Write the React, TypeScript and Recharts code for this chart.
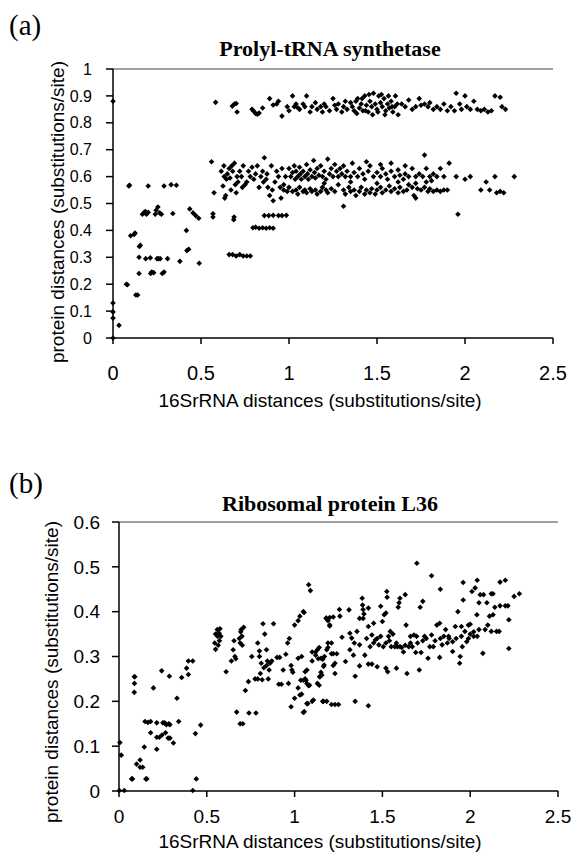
import React from 'react';
import { ScatterChart, Scatter, XAxis, YAxis, ReferenceLine } from 'recharts';

type P = [number, number];

const xTicks = [0, 0.5, 1, 1.5, 2, 2.5];
const prolylTicks = [0, 0.1, 0.2, 0.3, 0.4, 0.5, 0.6, 0.7, 0.8, 0.9, 1];
const l36Ticks = [0, 0.1, 0.2, 0.3, 0.4, 0.5, 0.6];

const panelLabels = ['(a)', '(b)'];
const chartTitles = ['Prolyl-tRNA synthetase', 'Ribosomal protein L36'];
const xTitle = '16SrRNA distances (substitutions/site)';
const yTitle = 'protein distances (substitutions/site)';

// ---------- (a) Prolyl-tRNA synthetase ----------
const prolylLeft: P[] = [
  [0, 0.88], [0, 0.13], [0, 0.097], [0, 0.074], [0, 0], [0.034, 0.047], [0.076, 0.2], [0.082, 0.198],
  [0.09, 0.565], [0.094, 0.568], [0.1, 0.38], [0.12, 0.385], [0.125, 0.39], [0.13, 0.16], [0.14, 0.16],
  [0.15, 0.34], [0.155, 0.345], [0.148, 0.3], [0.148, 0.24], [0.167, 0.46], [0.175, 0.465], [0.183, 0.47],
  [0.19, 0.46], [0.2, 0.467], [0.186, 0.295], [0.212, 0.298], [0.2, 0.565], [0.214, 0.24], [0.22, 0.245],
  [0.231, 0.243], [0.24, 0.46], [0.245, 0.475], [0.255, 0.487], [0.265, 0.465], [0.275, 0.46], [0.25, 0.295],
  [0.258, 0.295], [0.268, 0.295], [0.28, 0.24], [0.29, 0.245], [0.29, 0.565], [0.31, 0.295], [0.34, 0.463],
  [0.33, 0.57], [0.36, 0.568], [0.38, 0.285], [0.417, 0.4], [0.42, 0.325], [0.43, 0.33], [0.436, 0.48],
  [0.455, 0.465], [0.47, 0.455], [0.487, 0.445], [0.49, 0.278], [0.56, 0.655], [0.568, 0.45], [0.568, 0.462],
  [0.574, 0.54],
];

const prolylLowLines: P[] = [
  [0.66, 0.31], [0.68, 0.31], [0.7, 0.305], [0.72, 0.31], [0.74, 0.305], [0.76, 0.305], [0.78, 0.305],
  [0.686, 0.44], [0.688, 0.45], [0.795, 0.41], [0.81, 0.412], [0.83, 0.408], [0.85, 0.41], [0.87, 0.408],
  [0.89, 0.41], [0.91, 0.408], [0.86, 0.455], [0.885, 0.455], [0.91, 0.456], [0.94, 0.455], [0.96, 0.455],
  [0.985, 0.456], [1.31, 0.49], [1.72, 0.52], [1.96, 0.46],
];

const prolylMiddle: P[] = [
  [0.615, 0.62], [0.625, 0.565], [0.63, 0.64], [0.632, 0.6], [0.635, 0.52], [0.64, 0.53], [0.645, 0.59],
  [0.65, 0.61], [0.66, 0.63], [0.665, 0.595], [0.67, 0.55], [0.675, 0.64], [0.68, 0.62], [0.69, 0.65],
  [0.695, 0.57], [0.7, 0.54], [0.705, 0.6], [0.71, 0.58], [0.72, 0.62], [0.73, 0.6], [0.735, 0.56],
  [0.74, 0.64], [0.75, 0.57], [0.76, 0.58], [0.77, 0.62], [0.78, 0.6], [0.79, 0.635], [0.8, 0.59],
  [0.81, 0.61], [0.82, 0.64], [0.83, 0.56], [0.84, 0.6], [0.85, 0.62], [0.855, 0.58], [0.86, 0.67],
  [0.87, 0.59], [0.875, 0.61], [0.88, 0.56], [0.89, 0.53], [0.9, 0.64], [0.905, 0.55], [0.91, 0.51],
  [0.92, 0.58], [0.93, 0.62], [0.94, 0.6], [0.95, 0.56], [0.955, 0.52], [0.96, 0.63], [0.97, 0.57],
  [0.98, 0.6], [0.99, 0.545],
  [1.0, 0.63], [1.01, 0.6], [1.02, 0.615], [1.03, 0.64], [1.035, 0.59], [1.04, 0.62], [1.05, 0.6],
  [1.06, 0.635], [1.065, 0.61], [1.07, 0.59], [1.08, 0.62], [1.09, 0.6], [1.1, 0.645], [1.105, 0.61],
  [1.11, 0.59], [1.12, 0.625], [1.13, 0.6], [1.14, 0.66], [1.145, 0.615], [1.15, 0.595], [1.16, 0.63],
  [1.17, 0.605], [1.18, 0.64], [1.19, 0.6], [1.2, 0.62], [1.21, 0.59], [1.22, 0.665], [1.23, 0.61],
  [1.24, 0.63], [1.25, 0.6], [1.26, 0.645], [1.27, 0.62], [1.28, 0.6], [1.29, 0.63], [1.3, 0.61],
  [1.31, 0.64], [1.32, 0.6], [1.33, 0.62], [1.35, 0.6], [1.36, 0.65], [1.37, 0.615], [1.39, 0.6],
  [1.4, 0.63], [1.42, 0.61], [1.43, 0.59], [1.45, 0.62], [1.46, 0.64], [1.48, 0.6], [1.5, 0.615],
  [1.52, 0.6], [1.53, 0.63], [1.55, 0.61], [1.56, 0.59], [1.58, 0.62], [1.6, 0.6], [1.62, 0.625],
  [1.63, 0.605], [1.65, 0.59], [1.66, 0.61], [1.68, 0.6], [1.7, 0.63], [1.72, 0.6], [1.74, 0.61],
  [1.76, 0.6], [1.77, 0.68], [1.78, 0.63], [1.8, 0.6], [1.82, 0.61], [1.84, 0.6], [1.86, 0.63], [1.88, 0.6],
  [1.44, 0.655], [1.52, 0.645], [1.58, 0.65], [1.66, 0.64],
  [0.97, 0.55], [1.0, 0.56], [1.02, 0.545], [1.04, 0.55], [1.05, 0.535], [1.06, 0.56], [1.08, 0.545],
  [1.09, 0.55], [1.1, 0.54], [1.12, 0.555], [1.13, 0.545], [1.15, 0.55], [1.16, 0.535], [1.18, 0.545],
  [1.19, 0.56], [1.21, 0.55], [1.22, 0.54], [1.24, 0.555], [1.26, 0.545], [1.28, 0.57], [1.31, 0.55],
  [1.32, 0.535], [1.34, 0.56], [1.35, 0.545], [1.37, 0.55], [1.38, 0.53], [1.4, 0.545], [1.41, 0.56],
  [1.43, 0.535], [1.44, 0.55], [1.46, 0.54], [1.47, 0.555], [1.49, 0.535], [1.5, 0.55], [1.52, 0.56],
  [1.53, 0.54], [1.55, 0.55], [1.57, 0.565], [1.58, 0.545], [1.6, 0.555], [1.62, 0.54], [1.63, 0.56],
  [1.65, 0.545], [1.67, 0.55], [1.68, 0.57], [1.7, 0.56], [1.71, 0.53], [1.73, 0.555], [1.75, 0.55],
  [1.77, 0.56], [1.79, 0.545], [1.8, 0.555], [1.82, 0.545], [1.84, 0.55], [1.86, 0.545], [1.88, 0.55],
  [1.9, 0.55], [1.2, 0.575], [1.35, 0.58], [1.5, 0.575], [1.62, 0.58], [1.72, 0.575], [1.78, 0.58],
  [1.81, 0.585],
  [1.91, 0.65], [1.95, 0.6], [2.0, 0.59], [2.03, 0.6], [2.09, 0.55], [2.12, 0.58], [2.14, 0.55],
  [2.17, 0.6], [2.18, 0.54], [2.2, 0.545], [2.22, 0.54], [2.28, 0.6],
];

const prolylUpper: P[] = [
  [0.583, 0.876], [0.678, 0.862], [0.69, 0.87], [0.7, 0.872], [0.705, 0.84], [0.79, 0.85], [0.8, 0.843],
  [0.81, 0.835], [0.82, 0.832], [0.83, 0.836], [0.85, 0.855], [0.89, 0.89], [0.91, 0.866], [0.93, 0.87],
  [0.94, 0.88], [0.96, 0.825], [0.99, 0.86], [1.0, 0.845], [1.02, 0.9], [1.03, 0.86], [1.04, 0.87],
  [1.05, 0.856], [1.06, 0.85], [1.08, 0.87], [1.09, 0.86], [1.1, 0.9], [1.12, 0.84], [1.13, 0.86],
  [1.15, 0.875], [1.16, 0.85], [1.18, 0.86], [1.19, 0.84], [1.2, 0.87], [1.21, 0.86], [1.23, 0.845],
  [1.25, 0.89], [1.26, 0.865], [1.27, 0.85], [1.28, 0.87], [1.3, 0.84], [1.31, 0.86], [1.32, 0.88],
  [1.33, 0.85], [1.35, 0.875], [1.36, 0.86], [1.37, 0.845], [1.38, 0.88], [1.39, 0.89], [1.4, 0.855],
  [1.41, 0.87], [1.42, 0.845], [1.43, 0.9], [1.44, 0.865], [1.45, 0.84], [1.46, 0.88], [1.47, 0.86],
  [1.48, 0.91], [1.49, 0.87], [1.5, 0.85], [1.51, 0.9], [1.52, 0.875], [1.53, 0.86], [1.54, 0.89],
  [1.55, 0.845], [1.56, 0.87], [1.57, 0.855], [1.58, 0.88], [1.59, 0.84], [1.6, 0.86], [1.62, 0.83],
  [1.64, 0.87], [1.66, 0.86], [1.68, 0.885], [1.7, 0.85], [1.72, 0.86], [1.74, 0.89], [1.75, 0.865],
  [1.77, 0.87], [1.79, 0.86], [1.8, 0.875], [1.82, 0.85], [1.84, 0.86], [1.86, 0.85], [1.88, 0.87],
  [1.9, 0.845], [1.92, 0.86], [1.94, 0.845], [1.95, 0.91], [1.97, 0.87], [1.98, 0.85], [2.0, 0.9],
  [2.01, 0.86], [2.03, 0.85], [2.05, 0.88], [2.07, 0.85], [2.09, 0.845], [2.11, 0.85], [2.13, 0.84],
  [2.15, 0.845], [2.17, 0.9], [2.2, 0.895], [2.21, 0.86], [2.23, 0.85],
  [1.385, 0.835], [1.415, 0.89], [1.435, 0.845], [1.455, 0.905], [1.475, 0.83], [1.505, 0.84],
  [1.525, 0.905], [1.545, 0.83], [1.565, 0.9], [1.585, 0.86], [1.605, 0.9], [1.615, 0.87],
];

// ---------- (b) Ribosomal protein L36 ----------
const l36Left: P[] = [
  [0.005, 0.108], [0.013, 0.08], [0.002, 0.001], [0.03, 0.001], [0.072, 0.027], [0.077, 0.027], [0.087, 0.255],
  [0.09, 0.255], [0.088, 0.24], [0.087, 0.22], [0.1, 0.06], [0.12, 0.069], [0.12, 0.053], [0.135, 0.053],
  [0.144, 0.098], [0.153, 0.027], [0.158, 0.027], [0.148, 0.155], [0.165, 0.153], [0.18, 0.155],
  [0.18, 0.13], [0.196, 0.23], [0.215, 0.152], [0.215, 0.093], [0.215, 0.12], [0.23, 0.12], [0.245, 0.125],
  [0.265, 0.13], [0.243, 0.268], [0.25, 0.152], [0.26, 0.152], [0.27, 0.148], [0.283, 0.15], [0.29, 0.148],
  [0.287, 0.256], [0.28, 0.118], [0.29, 0.118], [0.31, 0.107], [0.33, 0.207], [0.34, 0.155], [0.357, 0.253],
  [0.385, 0.274], [0.395, 0.26], [0.395, 0.29], [0.42, 0.29], [0.42, 0.001], [0.435, 0.128], [0.44, 0.027],
  [0.465, 0.147],
];

const l36Mid: P[] = [
  [0.545, 0.33], [0.55, 0.316], [0.555, 0.349], [0.56, 0.36], [0.562, 0.345], [0.565, 0.325], [0.57, 0.352],
  [0.572, 0.335], [0.575, 0.362], [0.58, 0.345], [0.55, 0.35], [0.61, 0.266], [0.64, 0.29], [0.65, 0.315],
  [0.655, 0.335], [0.66, 0.3], [0.665, 0.295], [0.67, 0.176], [0.685, 0.34], [0.69, 0.33], [0.693, 0.355],
  [0.696, 0.36], [0.7, 0.345], [0.702, 0.325], [0.71, 0.365], [0.69, 0.15], [0.705, 0.15], [0.72, 0.224],
  [0.737, 0.244], [0.74, 0.174], [0.756, 0.3], [0.775, 0.25], [0.78, 0.174], [0.79, 0.25], [0.79, 0.33],
  [0.8, 0.3], [0.8, 0.312], [0.805, 0.262], [0.81, 0.285], [0.815, 0.248], [0.82, 0.373], [0.825, 0.275],
  [0.83, 0.35], [0.84, 0.315], [0.84, 0.28], [0.845, 0.29], [0.85, 0.25], [0.855, 0.27], [0.86, 0.285],
  [0.87, 0.29], [0.88, 0.373], [0.9, 0.298], [0.91, 0.238], [0.915, 0.298], [0.925, 0.238], [0.935, 0.27],
  [0.95, 0.305], [0.96, 0.33], [0.965, 0.24], [0.97, 0.34], [0.98, 0.28], [0.985, 0.27], [0.98, 0.188],
  [0.99, 0.265], [1.0, 0.207], [1.0, 0.37], [1.02, 0.38], [1.03, 0.39], [1.05, 0.4], [1.02, 0.296],
  [1.02, 0.23], [1.03, 0.214], [1.05, 0.175], [1.06, 0.25], [1.07, 0.24], [1.07, 0.27], [1.08, 0.46],
  [1.09, 0.447], [1.075, 0.195], [1.08, 0.235], [1.1, 0.29], [1.1, 0.31], [1.1, 0.2], [1.12, 0.31],
  [1.13, 0.315], [1.14, 0.32], [1.13, 0.24], [1.145, 0.255], [1.15, 0.265], [1.16, 0.2], [1.18, 0.385],
  [1.19, 0.38], [1.2, 0.37], [1.17, 0.3], [1.19, 0.32],
];

const l36Right: P[] = [
  [1.054, 0.398], [1.04, 0.3], [1.035, 0.247], [1.05, 0.247], [1.065, 0.247], [1.06, 0.266], [1.04, 0.216],
  [1.055, 0.177], [1.07, 0.195], [1.085, 0.236], [1.107, 0.203], [1.12, 0.303], [1.135, 0.295],
  [1.15, 0.296], [1.16, 0.294], [1.14, 0.236], [1.142, 0.255], [1.155, 0.259], [1.165, 0.278],
  [1.168, 0.281], [1.165, 0.2], [1.183, 0.2], [1.18, 0.386], [1.2, 0.387], [1.22, 0.388], [1.2, 0.368],
  [1.183, 0.315], [1.19, 0.33], [1.21, 0.33], [1.21, 0.306], [1.22, 0.306], [1.24, 0.306], [1.21, 0.193],
  [1.23, 0.193], [1.25, 0.193], [1.22, 0.28], [1.23, 0.285], [1.23, 0.262], [1.255, 0.405], [1.258, 0.39],
  [1.27, 0.343], [1.29, 0.289], [1.31, 0.404], [1.315, 0.352], [1.315, 0.315], [1.325, 0.341],
  [1.335, 0.303], [1.34, 0.33], [1.345, 0.256], [1.345, 0.2], [1.355, 0.356], [1.37, 0.326], [1.37, 0.279],
  [1.385, 0.43], [1.387, 0.415], [1.39, 0.405], [1.395, 0.395], [1.39, 0.385], [1.37, 0.385], [1.4, 0.303],
  [1.41, 0.34], [1.42, 0.367], [1.42, 0.408], [1.42, 0.19], [1.42, 0.283], [1.44, 0.283], [1.43, 0.322],
  [1.44, 0.348], [1.45, 0.374], [1.46, 0.337], [1.47, 0.277], [1.48, 0.326], [1.49, 0.412], [1.49, 0.345],
  [1.5, 0.378], [1.505, 0.322], [1.51, 0.393], [1.52, 0.397], [1.525, 0.445], [1.527, 0.432],
  [1.52, 0.274], [1.53, 0.266], [1.535, 0.345], [1.545, 0.356], [1.55, 0.322], [1.56, 0.35], [1.57, 0.322],
  [1.585, 0.322], [1.6, 0.322], [1.58, 0.274], [1.59, 0.41], [1.595, 0.42], [1.6, 0.43], [1.61, 0.32],
  [1.62, 0.31], [1.63, 0.438], [1.635, 0.37], [1.64, 0.262], [1.65, 0.322], [1.66, 0.345], [1.67, 0.322],
  [1.68, 0.348], [1.69, 0.309], [1.695, 0.345], [1.71, 0.27], [1.715, 0.41], [1.72, 0.309], [1.73, 0.423],
  [1.74, 0.345], [1.76, 0.296], [1.77, 0.322], [1.78, 0.348], [1.79, 0.322], [1.81, 0.37], [1.826, 0.374],
  [1.826, 0.298], [1.84, 0.326], [1.85, 0.345], [1.86, 0.36], [1.877, 0.345], [1.9, 0.333], [1.9, 0.311],
  [1.915, 0.367], [1.93, 0.4], [1.94, 0.285], [1.943, 0.3], [1.95, 0.367], [1.955, 0.322], [1.96, 0.426],
  [1.97, 0.356], [1.98, 0.333], [1.99, 0.37], [2.0, 0.372], [2.01, 0.445], [2.02, 0.345], [2.028, 0.453],
  [2.038, 0.393], [2.04, 0.345], [2.05, 0.42], [2.057, 0.438], [2.072, 0.307], [2.076, 0.438],
  [2.085, 0.36], [2.095, 0.42], [2.1, 0.37], [2.11, 0.39], [2.12, 0.44], [2.13, 0.44], [2.12, 0.356],
  [2.13, 0.393], [2.14, 0.41], [2.15, 0.356], [2.165, 0.356], [2.17, 0.413], [2.2, 0.413], [2.215, 0.413],
  [2.22, 0.382], [2.22, 0.318], [2.25, 0.434], [2.28, 0.44], [2.17, 0.466], [2.2, 0.47], [2.04, 0.47],
  [1.96, 0.465], [1.83, 0.45], [1.78, 0.48], [1.696, 0.508],
  [1.45, 0.33], [1.47, 0.34], [1.52, 0.33], [1.54, 0.335], [1.58, 0.33], [1.63, 0.325], [1.66, 0.33],
  [1.7, 0.33], [1.73, 0.335], [1.75, 0.34], [1.8, 0.335], [1.83, 0.34], [1.87, 0.33], [1.88, 0.34],
  [1.92, 0.34], [1.95, 0.345], [1.99, 0.34], [2.0, 0.35], [2.02, 0.355], [2.05, 0.36],
];

const toPts = (arr: P[]) => arr.map(([x, y]) => ({ x, y }));

const prolylData = toPts([...prolylLeft, ...prolylLowLines, ...prolylMiddle, ...prolylUpper]);
const l36Data = toPts([...l36Left, ...l36Mid, ...l36Right]);

const SANS = '"Liberation Sans", Arial, sans-serif';
const SERIF = '"Liberation Serif", "Times New Roman", serif';

const Diamond = (props: any) => {
  const { cx, cy } = props;
  if (cx == null || cy == null) return null;
  const r = 2.8;
  return <path d={`M${cx},${cy - r}L${cx + r},${cy}L${cx},${cy + r}L${cx - r},${cy}Z`} fill="#000" />;
};

interface PanelProps {
  top: number;
  height: number;
  marginTop: number;
  marginRight: number;
  yAxisWidth: number;
  xAxisHeight: number;
  yMax: number;
  yTicks: number[];
  data: { x: number; y: number }[];
  yTickFont: number;
  xTickFont: number;
  yTickMargin: number;
  xTickMargin: number;
}

function Panel(p: PanelProps) {
  return (
    <div style={{ position: 'absolute', left: 0, top: p.top, width: 574, height: p.height }}>
      <ScatterChart
        width={574}
        height={p.height}
        margin={{ top: p.marginTop, right: p.marginRight, bottom: 0, left: 0 }}
      >
        <ReferenceLine y={p.yMax} stroke="#808080" strokeWidth={1.5} />
        <XAxis
          type="number"
          dataKey="x"
          domain={[0, 2.5]}
          ticks={xTicks}
          height={p.xAxisHeight}
          tickSize={6}
          tickMargin={p.xTickMargin}
          stroke="#000"
          strokeWidth={1.5}
          tick={{ fontSize: p.xTickFont, fill: '#000' }}
        />
        <YAxis
          type="number"
          dataKey="y"
          domain={[0, p.yMax]}
          ticks={p.yTicks}
          width={p.yAxisWidth}
          tickSize={7}
          tickMargin={p.yTickMargin}
          stroke="#000"
          strokeWidth={1.5}
          tick={{ fontSize: p.yTickFont, fill: '#000' }}
        />
        <Scatter data={p.data} shape={<Diamond />} isAnimationActive={false} />
      </ScatterChart>
    </div>
  );
}

const abs = (left: number, top: number, extra: React.CSSProperties = {}): React.CSSProperties => ({
  position: 'absolute',
  left,
  top,
  whiteSpace: 'nowrap',
  lineHeight: 1,
  color: '#000',
  ...extra,
});

export default function App() {
  return (
    <div style={{ position: 'absolute', left: 0, top: 0, width: 574, height: 858, background: '#fff', fontFamily: SANS }}>
      <Panel
        top={0}
        height={430}
        marginTop={69}
        marginRight={21}
        yAxisWidth={113}
        xAxisHeight={92}
        yMax={1}
        yTicks={prolylTicks}
        data={prolylData}
        yTickFont={16}
        xTickFont={20}
        yTickMargin={14}
        xTickMargin={22}
      />
      <Panel
        top={440}
        height={418}
        marginTop={82}
        marginRight={16}
        yAxisWidth={119}
        xAxisHeight={67}
        yMax={0.6}
        yTicks={l36Ticks}
        data={l36Data}
        yTickFont={19}
        xTickFont={19}
        yTickMargin={12}
        xTickMargin={13}
      />

      <div style={abs(9, 11, { fontFamily: SERIF, fontSize: 29 })}>{panelLabels[0]}</div>
      <div style={abs(130, 38, { width: 400, textAlign: 'center', fontFamily: SERIF, fontSize: 22, fontWeight: 'bold' })}>
        {chartTitles[0]}
      </div>
      <div style={abs(120, 391, { width: 400, textAlign: 'center', fontFamily: SANS, fontSize: 19 })}>{xTitle}</div>
      <div
        style={abs(58 - 200, 212 - 10, {
          width: 400,
          height: 20,
          textAlign: 'center',
          fontFamily: SANS,
          fontSize: 19,
          transform: 'rotate(-90deg)',
          transformOrigin: '200px 10px',
        })}
      >
        {yTitle}
      </div>

      <div style={abs(9, 469, { fontFamily: SERIF, fontSize: 29 })}>{panelLabels[1]}</div>
      <div style={abs(130, 493, { width: 400, textAlign: 'center', fontFamily: SERIF, fontSize: 22, fontWeight: 'bold' })}>
        {chartTitles[1]}
      </div>
      <div style={abs(120, 832, { width: 400, textAlign: 'center', fontFamily: SANS, fontSize: 19 })}>{xTitle}</div>
      <div
        style={abs(52 - 200, 672 - 10, {
          width: 400,
          height: 20,
          textAlign: 'center',
          fontFamily: SANS,
          fontSize: 19,
          transform: 'rotate(-90deg)',
          transformOrigin: '200px 10px',
        })}
      >
        {yTitle}
      </div>
    </div>
  );
}
